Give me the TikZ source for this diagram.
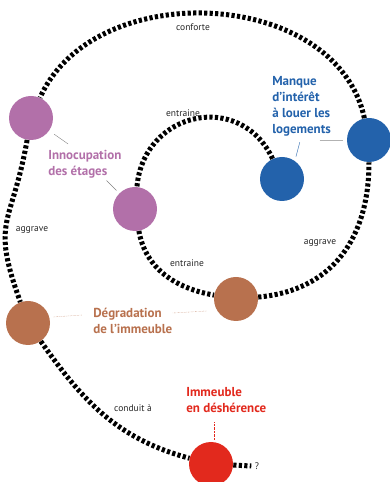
\documentclass[tikz,border=0pt]{standalone}
\usepackage{fontspec}
\setmainfont{PT Sans}
\usetikzlibrary{calc}
\definecolor{pinkish}{HTML}{B270A9}
\definecolor{bluish}{HTML}{2362AB}
\definecolor{brownish}{HTML}{B8714E}
\definecolor{reddish}{HTML}{E2291D}
\begin{document}
\begin{tikzpicture}[
    x=1pt,y=1pt,
    every path/.style={semithick},
    dot/.style={circle,minimum size=44pt,inner sep=0pt},
    chain/.style={line width=5pt,dash pattern=on 3.2pt off 2.3pt,black},
    verb/.style={font=\fontsize{9.5}{11}\selectfont,text=black!85},
    issue/.style={font=\bfseries\fontsize{13}{16}\selectfont,align=left,anchor=west,inner sep=0pt},
    leader/.style={thin,#1}
]
    \useasboundingbox (0,0) rectangle (390,482);

    % les cercles
    \node [dot,fill=pinkish] (pinkOut) at (31,364) {};
    \node [dot,fill=pinkish] (pinkIn) at (135,273) {};
    \node [dot,fill=bluish] (blueIn) at (282,303) {};
    \node [dot,fill=bluish] (blueOut) at (369,342) {};
    \node [dot,fill=brownish] (brownIn) at (236,183) {};
    \node [dot,fill=brownish] (brownOut) at (28,159) {};
    \node [dot,fill=reddish] (red) at (211,18) {};

    % la spirale
    \draw [chain] (blueIn) to[out=115,in=85,looseness=1.4] (pinkIn);
    \draw [chain] (pinkIn) to[out=-80,in=170] (brownIn);
    \draw [chain] (brownIn) to[out=5,in=-90,looseness=1.1] (blueOut);
    \draw [chain] (blueOut) to[out=102,in=66,looseness=1.05] (pinkOut);
    \draw [chain] (pinkOut) to[out=-100,in=110,looseness=1.4] (brownOut);
    \draw [chain] (brownOut) to[out=-55,in=165] (red);
    \node [verb] (what) at (257,16) {?};
    \draw [chain] (red) -- (what.west);

    % les verbes
    \node [verb] (conforte) at (193,455) {conforte};
    \node [verb] (entraineHaut) at (183,369) {entraine};
    \node [verb] (entraineBas) at (187,219) {entraine};
    \node [verb] (aggraveG) at (32,252) {aggrave};
    \node [verb] (aggraveD) at (320,239) {aggrave};
    \node [verb] (conduit) at (133,74) {conduit à};

    % les etiquettes
    \node [issue,text=bluish] (manque) at (272,376) {Manque\\d'intérêt\\à louer les\\logements};
    \node [issue,text=pinkish] (innoc) at (48,318) {Innocupation\\des étages};
    \node [issue,text=brownish] (degr) at (93,161) {Dégradation\\de l'immeuble};
    \node [issue,text=reddish] (immeuble) at (186,82) {Immeuble\\en déshérence};

    % les traits de rappel
    \draw [leader=gray] (pinkOut.-35) ++(-35:6) -- ++(-35:17);
    \draw [leader=gray] (pinkIn.135) ++(135:4) -- ++(135:14);
    \draw [leader=bluish] (blueIn.58) ++(58:4) -- ++(75:15);
    \draw [leader=gray!60,very thin] ([xshift=-27pt]blueOut.west) -- ([xshift=-4pt]blueOut.west);
    \draw [leader=brownish,densely dotted] ([xshift=3pt,yshift=6pt]brownOut.east) -- ([xshift=-11pt,yshift=6pt]degr.west);
    \draw [leader=brownish,densely dotted] ([xshift=-7pt,yshift=-12pt]brownIn.west) -- +(-34,-2);
    \draw [leader=reddish,densely dotted] ([xshift=3pt,yshift=2pt]red.north) -- ++(0,18);
\end{tikzpicture}
\end{document}
